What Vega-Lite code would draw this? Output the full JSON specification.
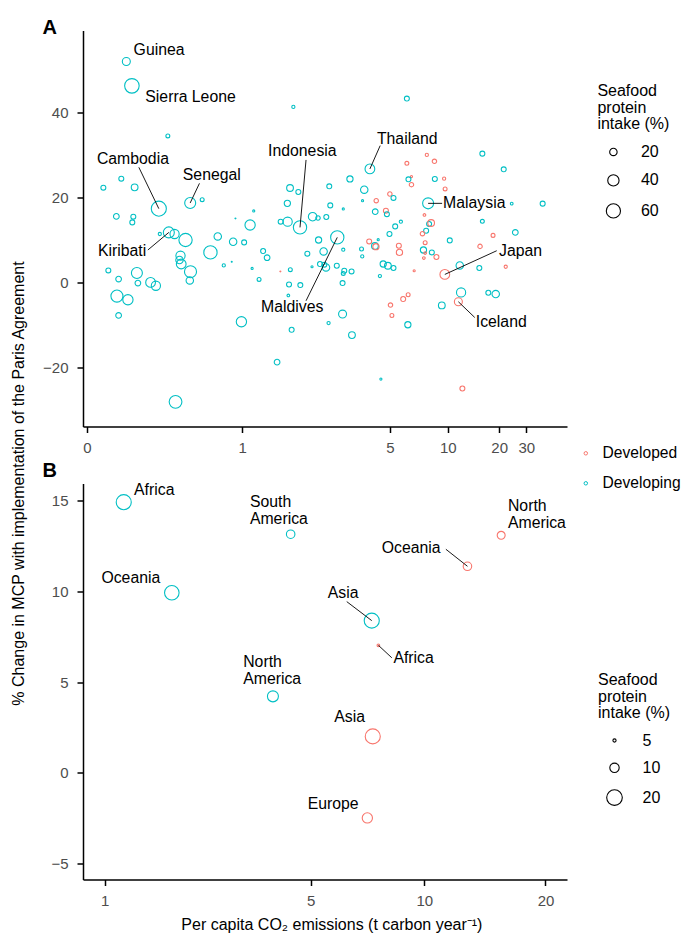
{
"$schema": "https://vega.github.io/schema/vega-lite/v6.json",
"padding": {"left": 10, "top": 17.5, "right": 0, "bottom": 0},
"bounds": "flush",
"spacing": 57,
"config": {
  "font": "Liberation Sans",
  "view": {"stroke": null},
  "axis": {"grid": false, "domainColor": "black", "domainWidth": 1.5, "tickColor": "black", "tickWidth": 1.5, "tickSize": 6, "labelColor": "#4D4D4D", "labelFontSize": 15, "titleFontSize": 16, "titleFontWeight": "normal", "titleColor": "black"},
  "axisX": {"labelPadding": 7.5},
  "axisY": {"labelPadding": 9},
  "title": {"anchor": "start", "frame": "group", "fontSize": 20, "fontWeight": "bold", "color": "black", "baseline": "alphabetic"}
},
"datasets": {
  "countries": [
    {"lnco2":0.1428,"mcp":51.90,"seafood":22.3,"group":"Developing"},
    {"lnco2":0.1646,"mcp":46.17,"seafood":62.8,"group":"Developing"},
    {"lnco2":0.3155,"mcp":34.39,"seafood":9.0,"group":"Developing"},
    {"lnco2":1.0131,"mcp":41.22,"seafood":7.6,"group":"Developing"},
    {"lnco2":0.0572,"mcp":22.21,"seafood":11.5,"group":"Developing"},
    {"lnco2":0.1235,"mcp":24.33,"seafood":11.5,"group":"Developing"},
    {"lnco2":0.1754,"mcp":22.29,"seafood":17.3,"group":"Developing"},
    {"lnco2":0.2759,"mcp":17.27,"seafood":67.1,"group":"Developing"},
    {"lnco2":0.4190,"mcp":18.61,"seafood":38.0,"group":"Developing"},
    {"lnco2":0.4779,"mcp":19.39,"seafood":9.0,"group":"Developing"},
    {"lnco2":0.7600,"mcp":16.73,"seafood":6.0,"group":"Developing"},
    {"lnco2":0.9905,"mcp":22.14,"seafood":17.3,"group":"Developing"},
    {"lnco2":1.0473,"mcp":21.20,"seafood":11.5,"group":"Developing"},
    {"lnco2":0.9725,"mcp":18.52,"seafood":15.4,"group":"Developing"},
    {"lnco2":1.2736,"mcp":22.52,"seafood":11.5,"group":"Developing"},
    {"lnco2":1.2814,"mcp":18.04,"seafood":11.5,"group":"Developing"},
    {"lnco2":1.9577,"mcp":43.18,"seafood":11.5,"group":"Developing"},
    {"lnco2":1.6094,"mcp":26.62,"seafood":30.9,"group":"Developing"},
    {"lnco2":1.4387,"mcp":24.26,"seafood":15.4,"group":"Developing"},
    {"lnco2":1.5598,"mcp":21.74,"seafood":20.0,"group":"Developing"},
    {"lnco2":1.5451,"mcp":19.15,"seafood":6.0,"group":"Developing"},
    {"lnco2":1.3842,"mcp":17.20,"seafood":6.0,"group":"Developing"},
    {"lnco2":1.9577,"mcp":27.94,"seafood":9.0,"group":"Developed"},
    {"lnco2":2.1648,"mcp":29.92,"seafood":7.6,"group":"Developed"},
    {"lnco2":2.2474,"mcp":28.41,"seafood":10.2,"group":"Developed"},
    {"lnco2":2.8201,"mcp":30.22,"seafood":11.5,"group":"Developing"},
    {"lnco2":3.1071,"mcp":26.53,"seafood":11.5,"group":"Developing"},
    {"lnco2":2.0041,"mcp":24.81,"seafood":6.0,"group":"Developed"},
    {"lnco2":1.9736,"mcp":24.17,"seafood":11.5,"group":"Developing"},
    {"lnco2":2.0041,"mcp":22.92,"seafood":10.2,"group":"Developed"},
    {"lnco2":2.2518,"mcp":24.26,"seafood":11.5,"group":"Developing"},
    {"lnco2":2.3558,"mcp":24.33,"seafood":7.6,"group":"Developed"},
    {"lnco2":2.3671,"mcp":21.91,"seafood":9.0,"group":"Developed"},
    {"lnco2":1.7921,"mcp":20.73,"seafood":10.2,"group":"Developed"},
    {"lnco2":1.8266,"mcp":19.79,"seafood":11.5,"group":"Developing"},
    {"lnco2":1.6659,"mcp":19.15,"seafood":10.2,"group":"Developed"},
    {"lnco2":2.1786,"mcp":18.52,"seafood":38.0,"group":"Developing"},
    {"lnco2":3.2198,"mcp":18.45,"seafood":6.7,"group":"Developing"},
    {"lnco2":3.6865,"mcp":18.45,"seafood":11.5,"group":"Developing"},
    {"lnco2":1.6569,"mcp":16.56,"seafood":13.6,"group":"Developing"},
    {"lnco2":1.7548,"mcp":16.80,"seafood":11.5,"group":"Developed"},
    {"lnco2":1.7641,"mcp":15.97,"seafood":11.5,"group":"Developing"},
    {"lnco2":2.1393,"mcp":15.78,"seafood":6.7,"group":"Developed"},
    {"lnco2":1.8982,"mcp":14.20,"seafood":7.6,"group":"Developing"},
    {"lnco2":1.8429,"mcp":13.10,"seafood":11.5,"group":"Developing"},
    {"lnco2":1.7883,"mcp":11.31,"seafood":11.5,"group":"Developing"},
    {"lnco2":2.1892,"mcp":13.66,"seafood":11.5,"group":"Developing"},
    {"lnco2":2.2112,"mcp":13.90,"seafood":17.3,"group":"Developed"},
    {"lnco2":2.1574,"mcp":12.08,"seafood":11.5,"group":"Developing"},
    {"lnco2":2.1181,"mcp":11.38,"seafood":10.2,"group":"Developed"},
    {"lnco2":2.1468,"mcp":9.26,"seafood":9.0,"group":"Developed"},
    {"lnco2":2.8201,"mcp":14.28,"seafood":9.0,"group":"Developing"},
    {"lnco2":2.9610,"mcp":10.98,"seafood":9.0,"group":"Developed"},
    {"lnco2":3.2716,"mcp":11.68,"seafood":13.6,"group":"Developing"},
    {"lnco2":2.4207,"mcp":9.80,"seafood":11.5,"group":"Developing"},
    {"lnco2":2.7902,"mcp":8.39,"seafood":10.2,"group":"Developed"},
    {"lnco2":1.6031,"mcp":9.56,"seafood":11.5,"group":"Developed"},
    {"lnco2":1.6542,"mcp":8.48,"seafood":17.3,"group":"Developing"},
    {"lnco2":1.6632,"mcp":8.32,"seafood":15.4,"group":"Developed"},
    {"lnco2":1.6838,"mcp":9.96,"seafood":6.0,"group":"Developing"},
    {"lnco2":1.5364,"mcp":7.77,"seafood":9.0,"group":"Developing"},
    {"lnco2":1.5425,"mcp":6.03,"seafood":7.6,"group":"Developing"},
    {"lnco2":1.8784,"mcp":8.55,"seafood":11.5,"group":"Developed"},
    {"lnco2":1.8843,"mcp":6.97,"seafood":15.4,"group":"Developed"},
    {"lnco2":1.3842,"mcp":7.61,"seafood":7.6,"group":"Developing"},
    {"lnco2":1.3362,"mcp":10.51,"seafood":53.3,"group":"Developing"},
    {"lnco2":2.1287,"mcp":7.54,"seafood":15.4,"group":"Developing"},
    {"lnco2":2.1468,"mcp":6.83,"seafood":6.7,"group":"Developed"},
    {"lnco2":2.2188,"mcp":6.97,"seafood":11.5,"group":"Developing"},
    {"lnco2":2.2694,"mcp":5.89,"seafood":11.5,"group":"Developed"},
    {"lnco2":2.1330,"mcp":5.65,"seafood":6.7,"group":"Developed"},
    {"lnco2":1.7298,"mcp":4.24,"seafood":15.4,"group":"Developing"},
    {"lnco2":1.7734,"mcp":3.84,"seafood":17.3,"group":"Developing"},
    {"lnco2":1.8266,"mcp":3.30,"seafood":11.5,"group":"Developing"},
    {"lnco2":2.0318,"mcp":2.66,"seafood":6.0,"group":"Developed"},
    {"lnco2":2.3637,"mcp":1.79,"seafood":30.9,"group":"Developed"},
    {"lnco2":2.5385,"mcp":3.91,"seafood":20.0,"group":"Developing"},
    {"lnco2":2.7811,"mcp":3.30,"seafood":11.5,"group":"Developing"},
    {"lnco2":3.1350,"mcp":3.60,"seafood":7.6,"group":"Developed"},
    {"lnco2":1.6993,"mcp":1.41,"seafood":7.6,"group":"Developing"},
    {"lnco2":1.3323,"mcp":3.84,"seafood":11.5,"group":"Developing"},
    {"lnco2":1.3923,"mcp":2.66,"seafood":11.5,"group":"Developing"},
    {"lnco2":1.4521,"mcp":2.50,"seafood":11.5,"group":"Developing"},
    {"lnco2":1.3842,"mcp":2.03,"seafood":9.0,"group":"Developing"},
    {"lnco2":1.3785,"mcp":-0.24,"seafood":11.5,"group":"Developing"},
    {"lnco2":2.5543,"mcp":-2.45,"seafood":28.1,"group":"Developing"},
    {"lnco2":2.5218,"mcp":-4.64,"seafood":22.3,"group":"Developed"},
    {"lnco2":2.8981,"mcp":-2.52,"seafood":11.5,"group":"Developing"},
    {"lnco2":2.9973,"mcp":-2.83,"seafood":20.0,"group":"Developing"},
    {"lnco2":1.9706,"mcp":-2.99,"seafood":9.0,"group":"Developed"},
    {"lnco2":1.9210,"mcp":-4.00,"seafood":11.5,"group":"Developed"},
    {"lnco2":1.7979,"mcp":-5.42,"seafood":10.2,"group":"Developed"},
    {"lnco2":1.8113,"mcp":-7.87,"seafood":9.0,"group":"Developed"},
    {"lnco2":2.3296,"mcp":-5.51,"seafood":17.3,"group":"Developing"},
    {"lnco2":1.3785,"mcp":-7.54,"seafood":22.3,"group":"Developing"},
    {"lnco2":1.9676,"mcp":-10.06,"seafood":15.4,"group":"Developing"},
    {"lnco2":0.1048,"mcp":15.45,"seafood":13.6,"group":"Developing"},
    {"lnco2":0.1702,"mcp":15.38,"seafood":11.5,"group":"Developing"},
    {"lnco2":0.1662,"mcp":14.04,"seafood":11.5,"group":"Developing"},
    {"lnco2":0.3199,"mcp":11.68,"seafood":38.0,"group":"Developing"},
    {"lnco2":0.3458,"mcp":11.31,"seafood":28.1,"group":"Developing"},
    {"lnco2":0.2802,"mcp":11.31,"seafood":7.6,"group":"Developing"},
    {"lnco2":0.3968,"mcp":9.89,"seafood":53.3,"group":"Developing"},
    {"lnco2":0.3732,"mcp":6.20,"seafood":28.1,"group":"Developing"},
    {"lnco2":0.3685,"mcp":5.18,"seafood":20.0,"group":"Developing"},
    {"lnco2":0.3765,"mcp":4.24,"seafood":30.9,"group":"Developing"},
    {"lnco2":0.4205,"mcp":2.43,"seafood":44.7,"group":"Developing"},
    {"lnco2":0.4171,"mcp":0.38,"seafood":20.0,"group":"Developing"},
    {"lnco2":0.0752,"mcp":2.73,"seafood":11.5,"group":"Developing"},
    {"lnco2":0.1133,"mcp":0.71,"seafood":13.6,"group":"Developing"},
    {"lnco2":0.1845,"mcp":2.12,"seafood":38.0,"group":"Developing"},
    {"lnco2":0.1885,"mcp":-0.24,"seafood":13.6,"group":"Developing"},
    {"lnco2":0.2407,"mcp":-0.09,"seafood":30.9,"group":"Developing"},
    {"lnco2":0.2632,"mcp":-0.87,"seafood":28.1,"group":"Developing"},
    {"lnco2":0.1070,"mcp":-3.30,"seafood":44.7,"group":"Developing"},
    {"lnco2":0.1490,"mcp":-4.17,"seafood":33.8,"group":"Developing"},
    {"lnco2":0.1133,"mcp":-7.87,"seafood":13.6,"group":"Developing"},
    {"lnco2":0.5199,"mcp":6.97,"seafood":53.3,"group":"Developing"},
    {"lnco2":0.5580,"mcp":10.74,"seafood":20.0,"group":"Developing"},
    {"lnco2":0.6414,"mcp":9.49,"seafood":20.0,"group":"Developing"},
    {"lnco2":0.7037,"mcp":9.33,"seafood":11.5,"group":"Developing"},
    {"lnco2":0.7385,"mcp":13.43,"seafood":33.8,"group":"Developing"},
    {"lnco2":0.6543,"mcp":14.98,"seafood":5.0,"group":"Developing"},
    {"lnco2":0.6336,"mcp":4.78,"seafood":5.0,"group":"Developing"},
    {"lnco2":0.5901,"mcp":3.91,"seafood":7.6,"group":"Developing"},
    {"lnco2":0.7504,"mcp":3.20,"seafood":6.0,"group":"Developing"},
    {"lnco2":0.7922,"mcp":0.61,"seafood":9.0,"group":"Developing"},
    {"lnco2":0.8169,"mcp":7.30,"seafood":11.5,"group":"Developing"},
    {"lnco2":0.8416,"mcp":5.72,"seafood":13.6,"group":"Developing"},
    {"lnco2":0.9263,"mcp":2.50,"seafood":5.0,"group":"Developed"},
    {"lnco2":0.9925,"mcp":2.90,"seafood":9.0,"group":"Developing"},
    {"lnco2":0.9837,"mcp":-0.57,"seafood":11.5,"group":"Developing"},
    {"lnco2":1.0612,"mcp":-0.71,"seafood":11.5,"group":"Developing"},
    {"lnco2":0.9791,"mcp":-3.16,"seafood":6.7,"group":"Developing"},
    {"lnco2":0.6881,"mcp":-9.35,"seafood":33.8,"group":"Developing"},
    {"lnco2":1.0014,"mcp":-11.24,"seafood":11.5,"group":"Developing"},
    {"lnco2":1.2683,"mcp":-9.66,"seafood":7.6,"group":"Developing"},
    {"lnco2":0.9283,"mcp":14.20,"seafood":11.5,"group":"Developing"},
    {"lnco2":0.9745,"mcp":14.20,"seafood":28.1,"group":"Developing"},
    {"lnco2":1.0590,"mcp":12.86,"seafood":53.3,"group":"Developing"},
    {"lnco2":1.1489,"mcp":15.38,"seafood":24.7,"group":"Developing"},
    {"lnco2":1.1884,"mcp":15.08,"seafood":10.2,"group":"Developing"},
    {"lnco2":1.2509,"mcp":15.31,"seafood":11.5,"group":"Developing"},
    {"lnco2":1.1928,"mcp":9.89,"seafood":15.4,"group":"Developing"},
    {"lnco2":1.2305,"mcp":7.21,"seafood":20.0,"group":"Developing"},
    {"lnco2":1.1107,"mcp":6.67,"seafood":11.5,"group":"Developing"},
    {"lnco2":1.1445,"mcp":3.60,"seafood":6.0,"group":"Developing"},
    {"lnco2":1.2032,"mcp":4.24,"seafood":11.5,"group":"Developing"},
    {"lnco2":1.2358,"mcp":4.08,"seafood":11.5,"group":"Developing"},
    {"lnco2":1.2486,"mcp":3.44,"seafood":20.0,"group":"Developing"},
    {"lnco2":1.4554,"mcp":-12.49,"seafood":17.3,"group":"Developing"},
    {"lnco2":0.9050,"mcp":-18.85,"seafood":13.6,"group":"Developing"},
    {"lnco2":0.3503,"mcp":-28.20,"seafood":49.5,"group":"Developing"},
    {"lnco2":1.7085,"mcp":-22.85,"seafood":6.0,"group":"Developing"},
    {"lnco2":2.5701,"mcp":-25.06,"seafood":11.5,"group":"Developed"}
  ],
  "countryLabels": [
    {"name":"Guinea","lx":0.1714,"ly":54.72},
    {"name":"Sierra Leone","lx":0.2187,"ly":43.49},
    {"name":"Cambodia","lx":0.03442,"ly":28.88},
    {"name":"Senegal","lx":0.3840,"ly":25.28},
    {"name":"Indonesia","lx":0.8478,"ly":30.93},
    {"name":"Thailand","lx":1.6722,"ly":33.69},
    {"name":"Malaysia","lx":2.3444,"ly":18.52},
    {"name":"Kiribati","lx":0.03793,"ly":7.37},
    {"name":"Maldives","lx":0.8045,"ly":-5.82},
    {"name":"Japan","lx":3.0417,"ly":7.37},
    {"name":"Iceland","lx":2.7357,"ly":-9.52}
  ],
  "countrySegments": [
    {"name":"Cambodia","x1":0.1924,"y1":27.0,"x2":0.2759,"y2":17.27},
    {"name":"Senegal","x1":0.4643,"y1":23.23,"x2":0.4190,"y2":18.61},
    {"name":"Indonesia","x1":1.1015,"y1":28.74,"x2":1.0590,"y2":12.86},
    {"name":"Thailand","x1":1.7021,"y1":32.11,"x2":1.6094,"y2":26.62},
    {"name":"Malaysia","x1":2.1786,"y1":18.52,"x2":2.3331,"y2":18.52},
    {"name":"Kiribati","x1":0.2294,"y1":7.54,"x2":0.3199,"y2":11.68},
    {"name":"Maldives","x1":1.1015,"y1":-4.41,"x2":1.3362,"y2":10.51},
    {"name":"Japan","x1":3.0108,"y1":7.37,"x2":2.3637,"y2":1.79},
    {"name":"Iceland","x1":2.7231,"y1":-8.34,"x2":2.5218,"y2":-4.64}
  ],
  "regions": [
    {"region":"Africa","co2":1.2134,"mcp":14.93,"seafood":18.9,"group":"Developing"},
    {"region":"Oceania","co2":1.8605,"mcp":9.93,"seafood":17.9,"group":"Developing"},
    {"region":"South America","co2":4.393,"mcp":13.16,"seafood":9.0,"group":"Developing"},
    {"region":"North America","co2":15.58,"mcp":13.10,"seafood":8.4,"group":"Developed"},
    {"region":"Oceania","co2":12.85,"mcp":11.39,"seafood":9.0,"group":"Developed"},
    {"region":"Asia","co2":7.312,"mcp":8.39,"seafood":18.9,"group":"Developing"},
    {"region":"Africa","co2":7.611,"mcp":7.03,"seafood":4.8,"group":"Developed"},
    {"region":"North America","co2":3.906,"mcp":4.21,"seafood":12.1,"group":"Developing"},
    {"region":"Asia","co2":7.357,"mcp":2.00,"seafood":18.9,"group":"Developed"},
    {"region":"Europe","co2":7.119,"mcp":-2.50,"seafood":11.1,"group":"Developed"}
  ],
  "regionLabels": [
    {"name":"Africa","lx":1.3387,"ly":15.61},
    {"name":"Oceania","lx":0.9651,"ly":10.76},
    {"name":"South\nAmerica","lx":3.3393,"ly":14.96},
    {"name":"North\nAmerica","lx":16.19,"ly":14.71},
    {"name":"Oceania","lx":7.769,"ly":12.42},
    {"name":"Asia","lx":5.572,"ly":9.93},
    {"name":"Africa","lx":8.330,"ly":6.31},
    {"name":"North\nAmerica","lx":3.1867,"ly":6.09},
    {"name":"Asia","lx":5.808,"ly":3.07},
    {"name":"Europe","lx":4.906,"ly":-1.72}
  ],
  "regionSegments": [
    {"name":"Oceania","x1":11.344,"y1":12.33,"x2":12.85,"y2":11.39},
    {"name":"Asia","x1":6.274,"y1":9.44,"x2":7.312,"y2":8.39},
    {"name":"Africa","x1":8.250,"y1":6.34,"x2":7.611,"y2":7.03}
  ]
},
"resolve": {"scale": {"x": "independent", "y": "independent", "size": "independent", "color": "shared"}, "legend": {"size": "independent", "color": "shared"}},
"vconcat": [
  {
    "width": 484, "height": 396,
    "title": {"text": "A", "offset": -7.2, "dx": -40.6},
    "layer": [
      {"mark": {"type": "rule", "strokeDash": [3, 3], "strokeWidth": 0.9, "color": "black"},
       "encoding": {"y": {"datum": 0, "type": "quantitative"}}},
      {"mark": {"type": "rule", "strokeDash": [3, 3], "strokeWidth": 0.9, "color": "black"},
       "encoding": {"x": {"datum": 1.3962, "type": "quantitative"}}},
      {"data": {"name": "countries"},
       "mark": {"type": "point", "shape": "circle", "filled": false, "strokeWidth": 1.1, "opacity": 1},
       "encoding": {
         "x": {"field": "lnco2", "type": "quantitative", "scale": {"type": "symlog", "constant": 1, "domain": [-0.01346, 4.0896], "nice": false, "zero": false},
               "axis": {"title": null, "values": [0, 0.6931, 1.7918, 2.3979, 3.0445, 3.434], "labelExpr": "format(exp(datum.value) - 1, '.0f')"}},
         "y": {"field": "mcp", "type": "quantitative", "scale": {"domain": [-34.0, 59.2], "nice": false, "zero": false},
               "axis": {"values": [-20, 0, 20, 40], "title": "% Change in MCP with implementation of the Paris Agreement", "titleX": -60, "titleY": 452.5, "titleAngle": -90, "titleAlign": "center", "titleBaseline": "alphabetic"}},
         "color": {"field": "group", "type": "nominal", "scale": {"domain": ["Developed", "Developing"], "range": ["#F8766D", "#00BFC4"]},
                   "legend": {"title": null, "orient": "none", "legendX": 495, "legendY": 415, "padding": 0, "labelFontSize": 15.6, "labelColor": "black", "symbolSize": 12, "symbolStrokeWidth": 1, "rowPadding": 13, "labelOffset": 9}},
         "size": {"field": "seafood", "type": "quantitative", "scale": {"domain": [5, 70], "range": [0.8, 237.4]},
                  "legend": {"values": [20, 40, 60], "title": ["Seafood", "protein", "intake (%)"], "orient": "none", "legendX": 514.4, "legendY": 52.5, "padding": 0, "titleFontSize": 16, "titleFontWeight": "normal", "titleColor": "black", "titleLineHeight": 16.7, "titlePadding": 11.5, "labelFontSize": 16, "labelColor": "black", "symbolStrokeColor": "black", "symbolStrokeWidth": 1.1, "symbolFillColor": "transparent", "symbolType": "circle", "rowPadding": 12.5, "labelOffset": 19.5, "symbolOffset": 8}}
       }},
      {"data": {"name": "countrySegments"},
       "mark": {"type": "rule", "color": "black", "strokeWidth": 0.9},
       "encoding": {"x": {"field": "x1", "type": "quantitative"}, "y": {"field": "y1", "type": "quantitative"}, "x2": {"field": "x2"}, "y2": {"field": "y2"}}},
      {"data": {"name": "countryLabels"},
       "mark": {"type": "text", "align": "left", "baseline": "middle", "fontSize": 15.8, "color": "black"},
       "encoding": {"x": {"field": "lx", "type": "quantitative"}, "y": {"field": "ly", "type": "quantitative"}, "text": {"field": "name"}}}
    ]
  },
  {
    "width": 484, "height": 396,
    "title": {"text": "B", "offset": 1.2, "dx": -40.6},
    "layer": [
      {"mark": {"type": "rule", "strokeDash": [3, 3], "strokeWidth": 0.9, "color": "black"},
       "encoding": {"y": {"datum": 0, "type": "quantitative"}}},
      {"mark": {"type": "rule", "strokeDash": [3, 3], "strokeWidth": 0.9, "color": "black"},
       "encoding": {"x": {"datum": 3.04, "type": "quantitative"}}},
      {"data": {"name": "regions"},
       "mark": {"type": "point", "shape": "circle", "filled": false, "strokeWidth": 1.1, "opacity": 1},
       "encoding": {
         "x": {"field": "co2", "type": "quantitative", "scale": {"type": "symlog", "constant": 1, "domain": [0.781, 22.556], "nice": false, "zero": false},
               "axis": {"values": [1, 5, 10, 20], "format": "d", "title": "Per capita CO\u2082 emissions (t carbon year\u207b\u00b9)", "titleX": 248.4, "titleY": 49.5, "titleAlign": "center", "titleBaseline": "alphabetic"}},
         "y": {"field": "mcp", "type": "quantitative", "scale": {"domain": [-5.9, 15.96], "nice": false, "zero": false},
               "axis": {"values": [-5, 0, 5, 10, 15], "title": null}},
         "color": {"field": "group", "type": "nominal", "scale": {"domain": ["Developed", "Developing"], "range": ["#F8766D", "#00BFC4"]},
                   "legend": {"title": null, "orient": "none", "legendX": 495, "legendY": 415, "padding": 0, "labelFontSize": 15.6, "labelColor": "black", "symbolSize": 12, "symbolStrokeWidth": 1, "rowPadding": 13, "labelOffset": 9}},
         "size": {"field": "seafood", "type": "quantitative", "scale": {"domain": [4.5, 20], "range": [2.4, 244.2]},
                  "legend": {"values": [5, 10, 20], "title": ["Seafood", "protein", "intake (%)"], "orient": "none", "legendX": 515, "legendY": 188.6, "padding": 0, "titleFontSize": 16, "titleFontWeight": "normal", "titleColor": "black", "titleLineHeight": 16.7, "titlePadding": 11, "labelFontSize": 16, "labelColor": "black", "symbolStrokeColor": "black", "symbolStrokeWidth": 1.1, "symbolFillColor": "transparent", "symbolType": "circle", "rowPadding": 11.3, "labelOffset": 19.5, "symbolOffset": 8}}
       }},
      {"data": {"name": "regionSegments"},
       "mark": {"type": "rule", "color": "black", "strokeWidth": 0.9},
       "encoding": {"x": {"field": "x1", "type": "quantitative"}, "y": {"field": "y1", "type": "quantitative"}, "x2": {"field": "x2"}, "y2": {"field": "y2"}}},
      {"data": {"name": "regionLabels"},
       "mark": {"type": "text", "align": "left", "baseline": "middle", "fontSize": 15.8, "color": "black", "lineBreak": "\n", "lineHeight": 17},
       "encoding": {"x": {"field": "lx", "type": "quantitative"}, "y": {"field": "ly", "type": "quantitative"}, "text": {"field": "name"}}}
    ]
  }
]
}
